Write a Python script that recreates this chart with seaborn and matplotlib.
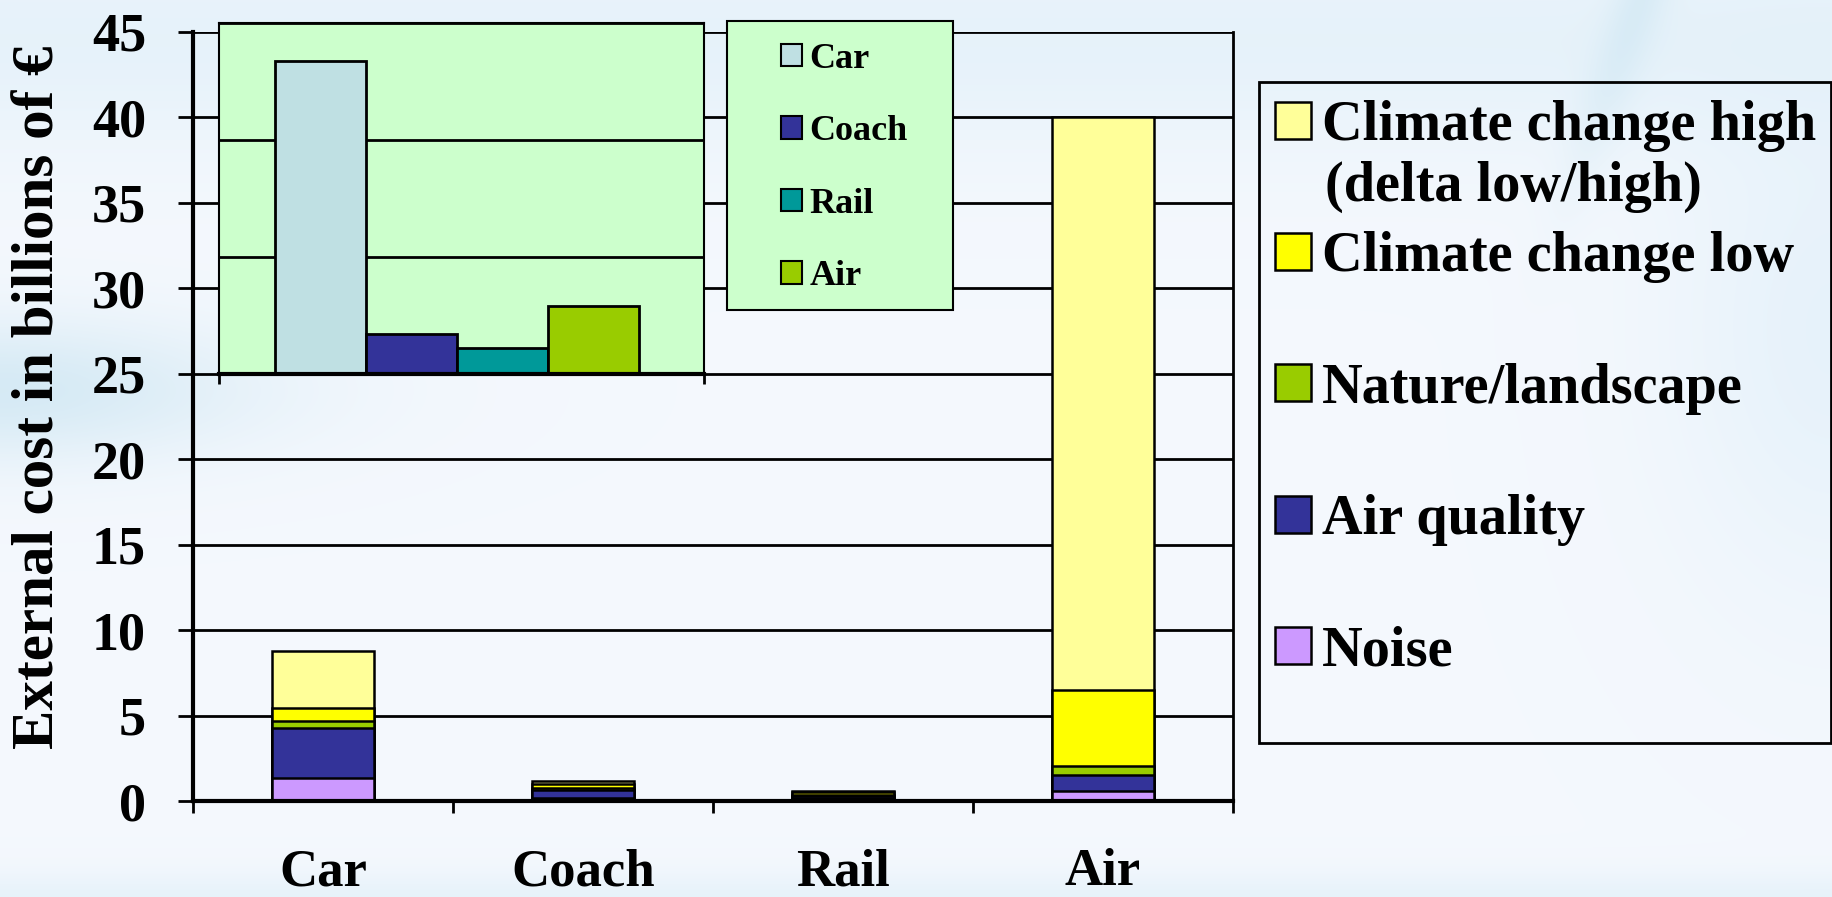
import numpy as np
import pandas as pd
import matplotlib
matplotlib.use("Agg")
import matplotlib.pyplot as plt
import seaborn as sns
from matplotlib.patches import Patch, Rectangle

# ---- data -----------------------------------------------------------------
modes = ["Car", "Coach", "Rail", "Air"]

# external cost per transport mode, billions of EUR (stacked bottom -> top)
noise = [1.33, 0.20, 0.15, 0.60]
air_quality = [2.92, 0.45, 0.15, 0.90]
nature_landscape = [0.45, 0.10, 0.05, 0.55]
climate_low = [0.75, 0.25, 0.15, 4.45]
climate_high_delta = [3.35, 0.15, 0.10, 33.50]

component_names = ["Noise", "Air quality", "Nature/landscape",
                   "Climate change low", "Climate change high"]
component_values = [noise, air_quality, nature_landscape,
                    climate_low, climate_high_delta]

# small inset: one value per mode
inset_values = [134.0, 17.0, 11.0, 29.3]

y_ticks = [0, 5, 10, 15, 20, 25, 30, 35, 40, 45]
y_label = "External cost in billions of €"

component_colors = {
    "Climate change high": "#ffff99",
    "Climate change low": "#ffff00",
    "Nature/landscape": "#99cc00",
    "Air quality": "#333399",
    "Noise": "#cc99ff",
}
mode_colors = {"Car": "#bfe0e3", "Coach": "#333399", "Rail": "#009999", "Air": "#99cc00"}

# ---- figure ---------------------------------------------------------------
W, H = 1833, 897
plt.rcParams["font.family"] = ["Liberation Serif", "DejaVu Serif"]
plt.rcParams["font.weight"] = "bold"
plt.rcParams["axes.labelweight"] = "bold"

fig = plt.figure(figsize=(W / 100, H / 100), dpi=100)

# soft slide background
def slide_background(h, w):
    yy, xx = np.mgrid[0:h, 0:w].astype(float)
    img = np.ones((h, w, 3)) * np.array([0.957, 0.973, 0.993])

    def blend(weight, color):
        weight = np.clip(weight, 0, 1)[..., None]
        img[:] = img * (1 - weight) + np.array(color) * weight

    blend(0.55 * np.exp(-((yy - 40) / 110) ** 2), (0.86, 0.93, 0.97))
    blend(0.75 * np.exp(-((yy - 390) / 70) ** 2) * np.exp(-(xx / 260) ** 2), (0.80, 0.90, 0.95))
    blend(0.45 * np.exp(-((xx - 1833) / 160) ** 2) * np.exp(-((yy - 330) / 260) ** 2), (0.84, 0.92, 0.97))
    d = (xx - (1640 - 0.35 * yy)) / 28
    blend(0.55 * np.exp(-d ** 2) * np.exp(-(yy / 160) ** 2), (0.80, 0.90, 0.95))
    blend(0.35 * np.exp(-((yy - 897) / 25) ** 2), (0.82, 0.91, 0.96))
    return img

bg = fig.add_axes([0, 0, 1, 1], zorder=-10)
bg.imshow(slide_background(H, W), aspect="auto", interpolation="bilinear")
bg.axis("off")

# ---- main stacked chart ---------------------------------------------------
ax = fig.add_axes([193 / W, 1 - 801 / H, (1233 - 193) / W, (801 - 31.6) / H], zorder=0)
ax.patch.set_alpha(0)

long = pd.DataFrame(
    [(m, c, v[i]) for c, v in zip(component_names, component_values) for i, m in enumerate(modes)],
    columns=["mode", "component", "value"],
)
long["component"] = pd.Categorical(long["component"], component_names, ordered=True)
long = long.sort_values(["mode", "component"])
long["top"] = long.groupby("mode", observed=True)["value"].cumsum()

# draw tallest layer first so each lower layer sits over it
for comp in component_names[::-1]:
    sub = long[long["component"] == comp]
    sns.barplot(data=sub, x="mode", y="top", order=modes, color=component_colors[comp],
                saturation=1, width=0.39, edgecolor="black", linewidth=1.8,
                errorbar=None, ax=ax)

ax.set_xlim(-0.5, 3.5)
ax.set_ylim(0, 45)
ax.set_yticks(y_ticks)
ax.grid(axis="y", color="black", linewidth=2.0)
ax.grid(axis="x", visible=False)
ax.set_axisbelow(True)
for side in ["left", "bottom"]:
    ax.spines[side].set_linewidth(3.0)
    ax.spines[side].set_color("black")
ax.spines["right"].set_linewidth(2.0)
ax.spines["right"].set_color("black")
ax.spines["top"].set_visible(False)

ax.tick_params(axis="y", direction="out", length=10.8, width=2, labelsize=39, pad=23, colors="black")
ax.tick_params(axis="x", which="major", length=0, labelsize=38, pad=34, colors="black")
ax.set_xticks([-0.5, 0.5, 1.5, 2.5, 3.5], minor=True)
ax.tick_params(axis="x", which="minor", direction="out", length=8.6, width=2, color="black")
ax.set_xlabel("")
ax.set_ylabel(y_label, fontsize=42.5, fontweight="bold")
ax.yaxis.set_label_coords(-0.122, 0.525)

# ---- inset chart ----------------------------------------------------------
ins = fig.add_axes([218.6 / W, 1 - 374 / H, (703.7 - 218.6) / W, (374 - 23.4) / H], zorder=2)
ins.set_facecolor("#ccffcc")
sns.barplot(x=modes, y=inset_values, hue=modes, palette=mode_colors, width=1.0,
            saturation=1, edgecolor="black", linewidth=2, legend=False, ax=ins)
ins.set_xlim(-1.125, 4.21)
ins.set_ylim(0, 150)
ins.set_yticks([0, 50, 100, 150])
ins.set_yticklabels([])
ins.tick_params(axis="y", length=0)
ins.set_xticks([-1.125, 4.21])
ins.set_xticklabels([])
ins.tick_params(axis="x", direction="out", length=7, width=2, color="black")
ins.grid(axis="y", color="black", linewidth=2.0)
ins.grid(axis="x", visible=False)
ins.set_axisbelow(True)
ins.set_xlabel("")
ins.set_ylabel("")
for side in ["left", "top", "right"]:
    ins.spines[side].set_linewidth(1.5)
    ins.spines[side].set_color("black")
ins.spines["bottom"].set_linewidth(3.0)
ins.spines["bottom"].set_color("black")

# inset legend with its own green box
fig.patches.append(Rectangle((727 / W, 1 - 310 / H), 226 / W, 289 / H, transform=fig.transFigure,
                             facecolor="#ccffcc", edgecolor="black", linewidth=1.5, zorder=1))
inset_handles = [Patch(facecolor=mode_colors[m], edgecolor="black", linewidth=1.5) for m in modes]
ins.legend(inset_handles, modes, loc="upper left", bbox_to_anchor=(781 / W, 1 - 43 / H),
           bbox_transform=fig.transFigure, frameon=False, fontsize=26,
           handlelength=0.58, handleheight=0.58, handletextpad=0.2,
           labelspacing=1.09, borderpad=0, borderaxespad=0)

# ---- component legend -----------------------------------------------------
fig.patches.append(Rectangle((1259 / W, 1 - 743 / H), (1831 - 1259) / W, (743 - 82) / H,
                             transform=fig.transFigure, facecolor="none",
                             edgecolor="black", linewidth=2, zorder=1))
legend_order = component_names[::-1]
handles = [Patch(facecolor=component_colors[c], edgecolor="black", linewidth=1.8) for c in legend_order]
fig.legend(handles, legend_order, loc="upper left", bbox_to_anchor=(1275 / W, 1 - 100 / H),
           frameon=False, fontsize=40.5, handlelength=0.64, handleheight=0.64,
           handletextpad=0.2, labelspacing=1.41, borderpad=0, borderaxespad=0)
fig.text(1325 / W, 1 - 201 / H, "(delta low/high)", fontsize=40.5, fontweight="bold",
         ha="left", va="baseline")

fig.savefig("out.png", dpi=100)
